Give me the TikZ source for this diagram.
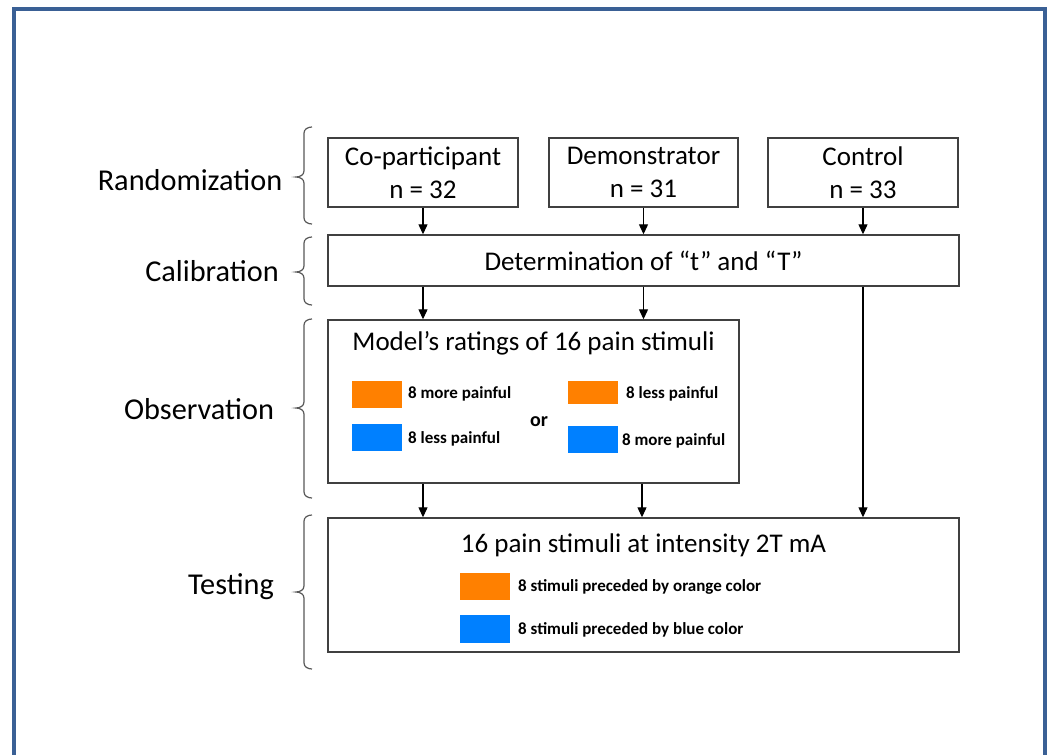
\documentclass[tikz,border=0pt]{standalone}
\usepackage{fontspec}
\setmainfont{Carlito}
\usetikzlibrary{arrows.meta}
\definecolor{framecol}{RGB}{58,96,149}
\definecolor{boxline}{RGB}{64,64,64}
\definecolor{orangesw}{RGB}{255,128,0}
\definecolor{bluesw}{RGB}{0,128,255}
\tikzset{
  mainbox/.style={draw=boxline,line width=1.4pt,fill=white,inner sep=0pt,align=center,font=\fontsize{27}{33}\selectfont},
  phase/.style={font=\fontsize{30.3}{35}\selectfont,inner sep=0pt},
  title/.style={font=\fontsize{27}{33}\selectfont,inner sep=0pt},
  small/.style={font=\bfseries\fontsize{17}{20}\selectfont,inner sep=0pt,anchor=west},
  swatch/.style={inner sep=0pt,minimum width=50pt,minimum height=27pt},
  flow/.style={draw=black,line width=1.2pt,-{Triangle[length=10pt,width=9pt]}},
  brk/.style={draw=gray!70!black,line width=1.2pt}
}
\newcommand{\bracketshape}[3]{% top, tip, bottom
  \draw[brk] (312,#1) to[out=180,in=90] (304,#1+6) -- (304,#2-6) to[out=-90,in=0] (296,#2) to[out=0,in=90] (304,#2+6) -- (304,#3-6) to[out=-90,in=180] (312,#3);}
\begin{document}
\begin{tikzpicture}[x=1pt,y=-1pt]
\useasboundingbox (0,0) rectangle (1050,755);
\fill[white] (0,0) rectangle (1050,755);
\draw[framecol,line width=4pt] (14,9) rectangle (1045,780);

% phase labels
\node[phase] (lrand) at (190,180) {Randomization};
\node[phase] (lcal) at (212,271) {Calibration};
\node[phase] (lobs) at (199,409) {Observation};
\node[phase] (ltest) at (231,587) {Testing};

% brackets
\bracketshape{127}{177}{224}
\bracketshape{237}{272}{305}
\bracketshape{319}{408}{498}
\bracketshape{515}{592}{669}

% group boxes
\node[mainbox,minimum width=190pt,minimum height=69pt] (copart) at (423,172.5) {Co-participant\\n = 32};
\node[mainbox,minimum width=189pt,minimum height=69pt] (demo) at (643.5,172.5) {Demonstrator\\n = 31};
\node[mainbox,minimum width=190pt,minimum height=69pt] (ctrl) at (863,172.5) {Control\\n = 33};

\node[mainbox,minimum width=631pt,minimum height=51pt] (calib) at (643.5,260.5) {Determination of “t” and “T”};

\node[mainbox,minimum width=411pt,minimum height=163pt] (obs) at (533.5,401.5) {};
\node[title] (obstitle) at (533.5,343) {Model’s ratings of 16 pain stimuli};
\node[swatch,fill=orangesw] (o1) at (376.5,394) {};
\node[swatch,fill=bluesw] (b1) at (376.5,437) {};
\node[small] (t1) at (408,394) {8 more painful};
\node[small] (t2) at (408,439) {8 less painful};
\node[font=\bfseries\fontsize{20}{22}\selectfont,inner sep=0pt] (or) at (539,422) {or};
\node[swatch,fill=orangesw,minimum height=23pt] (o2) at (593,392) {};
\node[swatch,fill=bluesw] (b2) at (593,439.5) {};
\node[small] (t3) at (626,394) {8 less painful};
\node[small] (t4) at (622,441) {8 more painful};

\node[mainbox,minimum width=631pt,minimum height=134pt] (test) at (643.5,585) {};
\node[title] (testtitle) at (643.5,545) {16 pain stimuli at intensity 2T mA};
\node[swatch,fill=orangesw] (o3) at (485,586.5) {};
\node[swatch,fill=bluesw,minimum height=28pt] (b3) at (485,629) {};
\node[small] (t5) at (518,587) {8 stimuli preceded by orange color};
\node[small] (t6) at (518,630) {8 stimuli preceded by blue color};

% connectors
\draw[flow] (copart.south) -- (copart.south |- calib.north);
\draw[flow] (demo.south) -- (demo.south |- calib.north);
\draw[flow] (ctrl.south) -- (ctrl.south |- calib.north);
\draw[flow] (calib.south -| copart.south) -- (copart.south |- obs.north);
\draw[flow] (calib.south -| demo.south) -- (demo.south |- obs.north);
\draw[flow] (calib.south -| ctrl.south) -- (ctrl.south |- test.north);
\draw[flow] (obs.south -| copart.south) -- (copart.south |- test.north);
\draw[flow] ([xshift=-1.5pt]obs.south -| demo.south) -- ([xshift=-1.5pt]demo.south |- test.north);
\end{tikzpicture}
\end{document}
